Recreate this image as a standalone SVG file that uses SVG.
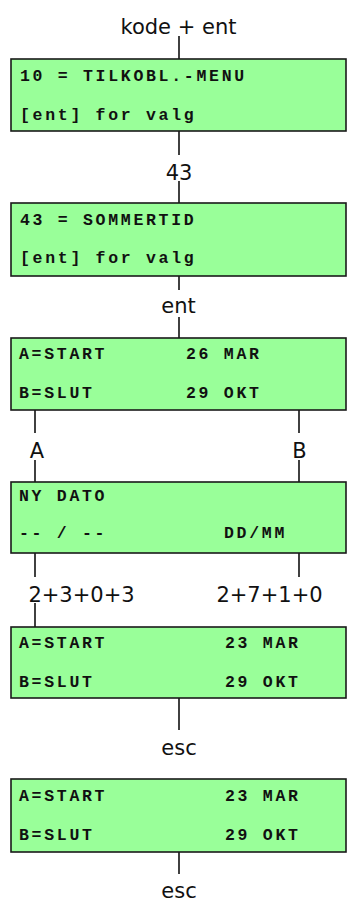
<svg xmlns="http://www.w3.org/2000/svg" width="347" height="899" viewBox="0 0 347 899">
<style>
.box{fill:#99ff99;stroke:#1a1a1a;stroke-width:1.6}
.mono{font-family:"Liberation Mono","DejaVu Sans Mono",monospace;font-weight:bold;font-size:16.5px;letter-spacing:2.7px;fill:#111}
.lbl{font-family:"DejaVu Sans","Verdana",sans-serif;font-size:21px;fill:#111;text-anchor:middle}
.con line{stroke:#111;stroke-width:1.6}
</style>
<rect width="347" height="899" fill="#fff"/>
<g class="con" id="connectors">
<line x1="179" y1="36" x2="179" y2="59"/>
<line x1="179" y1="131" x2="179" y2="155"/>
<line x1="179" y1="181" x2="179" y2="203"/>
<line x1="179" y1="276" x2="179" y2="290"/>
<line x1="179" y1="317" x2="179" y2="338"/>
<line x1="35" y1="410" x2="35" y2="433"/>
<line x1="35" y1="460" x2="35" y2="482"/>
<line x1="299" y1="410" x2="299" y2="433"/>
<line x1="299" y1="460" x2="299" y2="482"/>
<line x1="35" y1="553" x2="35" y2="577"/>
<line x1="299" y1="553" x2="299" y2="577"/>
<line x1="35" y1="603" x2="35" y2="627"/>
<line x1="179" y1="698" x2="179" y2="730"/>
<line x1="179" y1="852" x2="179" y2="874"/>
</g>
<g id="labels">
<text class="lbl" x="178.5" y="34">kode + ent</text>
<text class="lbl" x="179" y="180">43</text>
<text class="lbl" x="178.5" y="313">ent</text>
<text class="lbl" x="37" y="458">A</text>
<text class="lbl" x="299.5" y="458">B</text>
<text class="lbl" x="81.5" y="602">2+3+0+3</text>
<text class="lbl" x="269.5" y="602">2+7+1+0</text>
<text class="lbl" x="179" y="755">esc</text>
<text class="lbl" x="179" y="898">esc</text>
</g>
<g id="n1">
<rect class="box" x="11" y="59" width="335" height="72"/>
<text class="mono" x="20" y="81">10 = TILKOBL.-MENU</text>
<text class="mono" x="20" y="120">[ent] for valg</text>
</g>
<g id="n2">
<rect class="box" x="11" y="203" width="335" height="73"/>
<text class="mono" x="20" y="225">43 = SOMMERTID</text>
<text class="mono" x="20" y="263">[ent] for valg</text>
</g>
<g id="n3">
<rect class="box" x="11" y="338" width="335" height="72"/>
<text class="mono" x="19" y="359">A=START</text>
<text class="mono" x="186" y="359">26 MAR</text>
<text class="mono" x="19" y="398">B=SLUT</text>
<text class="mono" x="186" y="398">29 OKT</text>
</g>
<g id="n4">
<rect class="box" x="11" y="482" width="335" height="71"/>
<text class="mono" x="19" y="501">NY DATO</text>
<text class="mono" x="19" y="538">-- / --</text>
<text class="mono" x="224" y="538">DD/MM</text>
</g>
<g id="n5">
<rect class="box" x="11" y="627" width="335" height="71"/>
<text class="mono" x="19" y="648">A=START</text>
<text class="mono" x="225" y="648">23 MAR</text>
<text class="mono" x="19" y="687">B=SLUT</text>
<text class="mono" x="225" y="687">29 OKT</text>
</g>
<g id="n6">
<rect class="box" x="11" y="779" width="335" height="73"/>
<text class="mono" x="19" y="801">A=START</text>
<text class="mono" x="225" y="801">23 MAR</text>
<text class="mono" x="19" y="840">B=SLUT</text>
<text class="mono" x="225" y="840">29 OKT</text>
</g>
</svg>
